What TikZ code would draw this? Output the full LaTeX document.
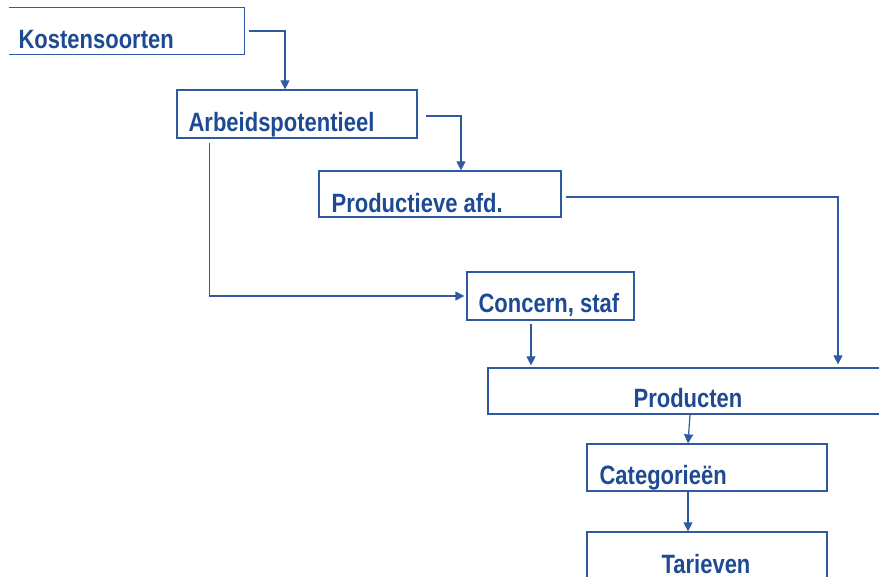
\documentclass[tikz,border=0pt]{standalone}
\usepackage{fontspec}
\setmainfont{Liberation Sans}[FakeStretch=0.83]
\usetikzlibrary{arrows.meta}

\definecolor{lineblue}{RGB}{47,90,162}
\definecolor{textblue}{RGB}{30,74,148}

\begin{document}
\begin{tikzpicture}[%
        x = 1pt, y = -1pt,
        font = \fontsize{26.5}{30}\selectfont\bfseries,
        > = {Triangle[width=9pt, length=9pt]},
        line width = 1.2pt,
        box/.style = {draw = lineblue, rectangle, inner sep = 0pt},
        lbl/.style = {text = textblue, inner sep = 0pt, anchor = base west},
        conn/.style = {draw = lineblue, ->}
    ]

        \useasboundingbox (0,0) rectangle (879,577);

        % The boxes, placed at their centres.
        \node[rectangle, inner sep = 0pt, minimum width = 234pt, minimum height = 46pt] (kosten) at (127, 31) {};
        \node[box, minimum width = 240pt, minimum height = 48pt] (arbeid) at (297, 114) {};
        \node[box, minimum width = 242pt, minimum height = 46pt] (product) at (440, 194) {};
        \node[box, minimum width = 167pt, minimum height = 48pt] (concern) at (550.5, 296) {};
        \node[box, minimum width = 394pt, minimum height = 46pt] (producten) at (685, 391) {};
        \node[box, minimum width = 240pt, minimum height = 47pt] (categ) at (707, 467.5) {};
        \node[box, minimum width = 240pt, minimum height = 60pt] (tarief) at (707, 562) {};

        % Kostensoorten has no left side.
        \draw[lineblue] (kosten.north west) -- (kosten.north east)
            -- (kosten.south east) -- (kosten.south west);

        % Texts in the boxes.
        \node[lbl] (kostenT) at (18, 49) {Kostensoorten};
        \node[lbl] (arbeidT) at (188, 131.5) {Arbeidspotentieel};
        \node[lbl] (productT) at (331, 212.5) {Productieve afd.};
        \node[lbl] (concernT) at (478, 313) {Concern, staf};
        \node[lbl, anchor = base] (productenT) at (688, 408) {Producten};
        \node[lbl] (categT) at (599, 485) {Categorieën};
        \node[lbl, anchor = base] (tariefT) at (706, 573) {Tarieven};

        % Connectors between the boxes.
        \draw[conn] ([xshift=4pt]kosten.east) -| ([xshift=-12pt]arbeid.north);
        \draw[conn] ([xshift=8pt, yshift=-2pt]arbeid.east) -| ([xshift=21pt]product.north);
        \draw[conn] ([xshift=33pt, yshift=-4pt]arbeid.south west) |- ([xshift=-2pt]concern.west);
        \draw[conn] ([xshift=4pt, yshift=-3pt]product.east) -| ([xshift=153pt, yshift=3pt]producten.north);
        \draw[conn] ([xshift=-19.5pt, yshift=-3pt]concern.south) -- ([xshift=-19.5pt, yshift=2pt]concern.south |- producten.north);
        \draw[conn] ([xshift=5pt]producten.south) -- ([xshift=-19pt]categ.north);
        \draw[conn] ([xshift=-19pt]categ.south) -- ([xshift=-19pt]tarief.north);
    \end{tikzpicture}
\end{document}
